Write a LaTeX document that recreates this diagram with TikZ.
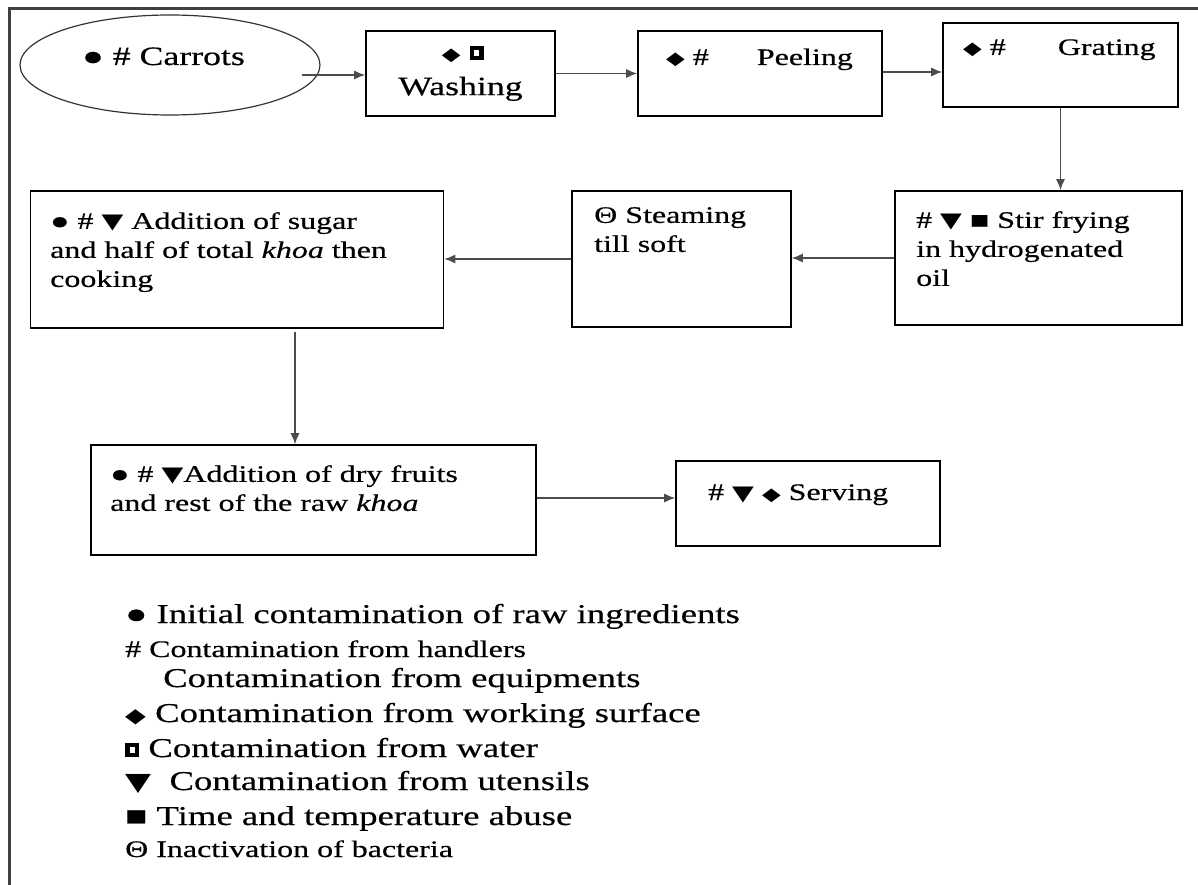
\documentclass[tikz,border=0pt]{standalone}
\usepackage{fontspec}
\setmainfont[FakeStretch=1.35, FakeBold=0.5]{Liberation Serif}
\newfontfamily\symfont[FakeStretch=1.35]{DejaVu Sans}
\usetikzlibrary{shapes.geometric, arrows.meta, positioning}
\tikzstyle{stepbox} = [rectangle, draw=black, line width=1.6pt]
\tikzstyle{source} = [ellipse, draw=black!80, line width=1.2pt, minimum width=300pt, minimum height=100pt]
\tikzstyle{txt} = [inner sep=0pt, align=left, font=\boxfont]
\tikzstyle{legend} = [inner sep=0pt, anchor=base west, font=\legfont]
\tikzstyle{arrow} = [line width=1.3pt, draw=black!70, -{Latex[length=11pt,width=9pt]}]
\newcommand{\boxfont}{\fontsize{23.7}{29}\selectfont}
\newcommand{\bigboxfont}{\fontsize{26.5}{33}\selectfont}
\newcommand{\legfont}{\fontsize{27.2}{33}\selectfont}
\newcommand{\dmd}[1][18]{{\symfont\fontsize{#1}{#1}\selectfont ◆}}
\newcommand{\tri}[1][21]{{\symfont\fontsize{#1}{#1}\selectfont ▼}}
\newcommand{\wsq}{\rlap{\rule{14pt}{14pt}}\hspace{4.5pt}{\color{white}\rule[4pt]{5pt}{6pt}}\hspace{4.5pt}}

\begin{document}
\begin{tikzpicture}[x=1pt, y=-1pt]
\useasboundingbox (0,0) rectangle (1198,885);
\draw [line width=2.5pt, draw=black!75] (1198,8.5) -- (9.5,8.5) -- (9.5,885);

% first row
\node (carrots) [source] at (170,65) {};
\node (carrotstxt) [txt, anchor=base west, font=\bigboxfont] at (82,65) {● \# Carrots};
\node (wash) [stepbox, minimum width=189pt, minimum height=85pt, align=center, font=\bigboxfont] at (460.5,73.5) {\dmd\ \wsq\\[2pt]Washing};
\node (peel) [stepbox, minimum width=244pt, minimum height=85pt] at (760,73.5) {};
\node (peeltxt) [txt, anchor=base west] at (666,65) {\dmd\ \#\hspace{48pt}Peeling};
\node (grate) [stepbox, minimum width=235pt, minimum height=84pt] at (1060.5,65) {};
\node (gratetxt) [txt, anchor=base west] at (963,55) {\dmd\ \#\hspace{52pt}Grating};

% second row
\node (stir) [stepbox, minimum width=287pt, minimum height=134pt] at (1038.5,258) {};
\node (stirtxt) [txt, anchor=north west] at (916,211) {\# \tri\ ■ Stir frying\\in hydrogenated\\oil};
\node (steam) [stepbox, minimum width=219pt, minimum height=136pt] at (681.5,259) {};
\node (steamtxt) [txt, anchor=north west] at (594,207) {Θ Steaming\\till soft};
\node (add) [stepbox, minimum width=413pt, minimum height=137pt] at (237,259.5) {};
\node (addtxt) [txt, anchor=north west] at (50,212) {● \# \tri\ Addition of sugar\\and half of total \textit{khoa} then\\cooking};

% third row
\node (dry) [stepbox, minimum width=445pt, minimum height=110pt] at (313.5,500) {};
\node (drytxt) [txt, anchor=north west] at (110,465) {● \# \tri Addition of dry fruits\\and rest of the raw \textit{khoa}};
\node (serve) [stepbox, minimum width=264pt, minimum height=85pt] at (808,503.5) {};
\node (servetxt) [txt, anchor=base west] at (708,500) {\# \tri\ \dmd\ Serving};

\coordinate (cout) at (302,75);
\coordinate (aout) at (295,332);
\draw [arrow] (cout) -- (cout -| wash.west);
\draw [arrow] (wash.east) -- (wash.east -| peel.west);
\draw [arrow] ([yshift=1.5pt]peel.east) -- ([yshift=1.5pt]peel.east -| grate.west);
\draw [arrow] (grate.south) -- (grate.south |- stir.north);
\draw [arrow] (stir.west) -- (stir.west -| steam.east);
\draw [arrow] (steam.west) -- (steam.west -| add.east);
\draw [arrow] (aout) -- (aout |- dry.north);
\draw [arrow] ([yshift=2pt]dry.east) -- ([yshift=2pt]dry.east -| serve.west);

% legend
\node (leg1) [legend] at (125,623) {● Initial contamination of raw ingredients};
\node (leg2) [legend, font=\boxfont] at (125,657) {\# Contamination from handlers};
\node (leg3) [legend] at (163,687) {Contamination from equipments};
\node (leg4) [legend] at (125,722) {\dmd[20] Contamination from working surface};
\node (leg5) [legend] at (125,757) {\wsq\ Contamination from water};
\node (leg6) [legend] at (125,790) {\tri[25]\ \ Contamination from utensils};
\node (leg7) [legend] at (125,825) {■ Time and temperature abuse};
\node (leg8) [legend, font=\boxfont] at (125,857) {Θ Inactivation of bacteria};
\end{tikzpicture}
\end{document}
